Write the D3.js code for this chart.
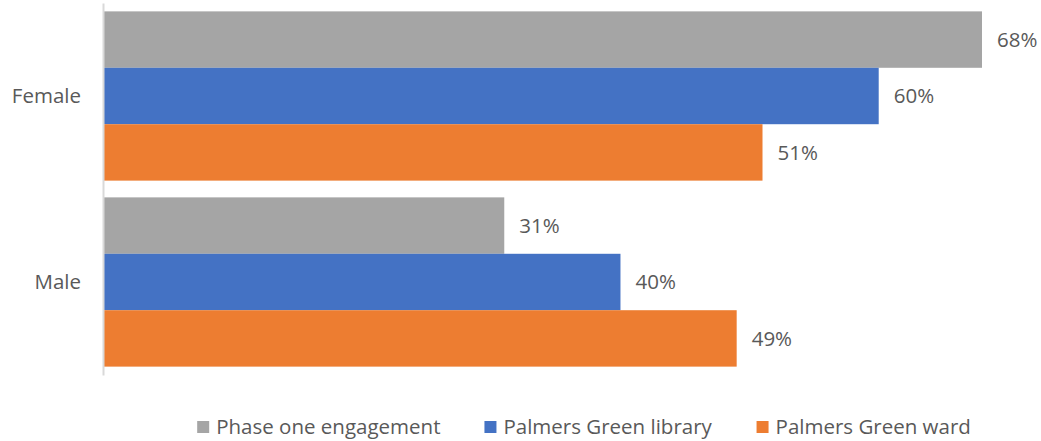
<!DOCTYPE html>
<html>
<head>
<meta charset="utf-8">
<script src="https://cdn.jsdelivr.net/npm/d3@7"></script>
<style>
  body { margin: 0; background: #fff; }
  text { font-family: "Open Sans", sans-serif; fill: #595959; }
</style>
</head>
<body>
<div class="chart"></div>
<script>
// data
var categories = ["Female", "Male"];
var seriesNames = ["Phase one engagement", "Palmers Green library", "Palmers Green ward"];
var phaseOne = [68, 31];
var library = [60, 40];
var ward = [51, 49];
var colors = ["#A5A5A5", "#4472C4", "#ED7D31"];

var allSeries = [phaseOne, library, ward];

var W = 1041, H = 441;
var margin = {top: 3, right: 0, bottom: 66, left: 103};
var width = W - margin.left - margin.right,
    height = H - margin.top - margin.bottom;

var svg = d3.select(".chart")
    .append("svg")
    .attr("width", W)
    .attr("height", H);

var g = svg.append("g")
    .attr("transform", "translate(" + margin.left + "," + margin.top + ")");

// scales
var x = d3.scaleLinear()
    .domain([0, 68])
    .range([0, 878]);

var y0 = d3.scaleBand()
    .domain(categories)
    .range([0, height])
    .paddingInner(0.09)
    .paddingOuter(0.045);

var y1 = d3.scaleBand()
    .domain(seriesNames)
    .range([0, y0.bandwidth()]);

// bars
categories.forEach(function(cat, ci){
    var grp = g.append("g")
        .attr("transform", "translate(0," + y0(cat) + ")");
    seriesNames.forEach(function(s, si){
        var v = allSeries[si][ci];
        grp.append("rect")
            .attr("x", 1)
            .attr("y", y1(s))
            .attr("width", x(v))
            .attr("height", y1.bandwidth())
            .attr("fill", colors[si]);
        grp.append("text")
            .attr("x", x(v) + 16)
            .attr("y", y1(s) + y1.bandwidth() / 2)
            .attr("dy", "0.35em")
            .style("font-size", "20.5px")
            .text(v + "%");
    });
});

// y axis
var yAxis = g.append("g")
    .call(d3.axisLeft(y0).tickSize(0).tickPadding(22));
yAxis.select(".domain").attr("stroke", "#D9D9D9").attr("stroke-width", 2);
yAxis.selectAll("text")
    .style("font-size", "20.5px")
    .style("fill", "#595959");

// legend
var legend = svg.append("g");
var items = legend.selectAll("g")
    .data(seriesNames)
    .enter().append("g");
items.append("rect")
    .attr("width", 12)
    .attr("height", 12)
    .attr("y", 421)
    .attr("fill", function(d, i){ return colors[i]; });
items.append("text")
    .attr("x", 19)
    .attr("y", 427)
    .attr("dy", "0.35em")
    .style("font-size", "20.5px")
    .text(function(d){ return d; });

var pos = 0, offsets = [];
items.each(function(){
    offsets.push(pos);
    pos += this.getBBox().width + 44;
});
var total = pos - 44;
var start = 584 - total / 2;
items.attr("transform", function(d, i){ return "translate(" + (start + offsets[i]) + ",0)"; });
</script>
</body>
</html>
